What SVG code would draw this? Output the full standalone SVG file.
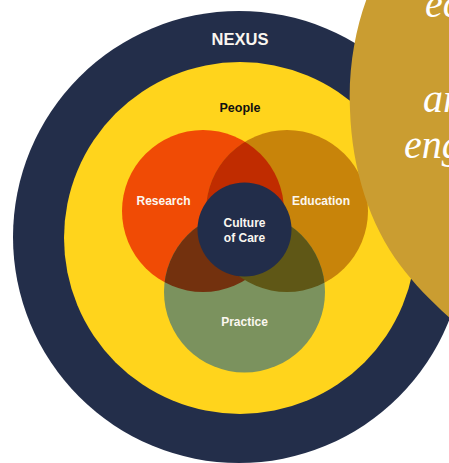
<svg xmlns="http://www.w3.org/2000/svg" width="449" height="463" viewBox="0 0 449 463">
  <style>
    .lbl { font-family: "Liberation Sans", Arial, sans-serif; font-weight: bold; fill: #FBF7F0; text-anchor: middle; }
    .quote { font-family: "Liberation Serif", "Times New Roman", serif; font-style: italic; font-size: 40px; fill: #FFFFFF; }
  </style>
  <defs>
    <clipPath id="clipR"><circle cx="203" cy="211" r="81"/></clipPath>
    <clipPath id="clipE"><circle cx="287" cy="211" r="81"/></clipPath>
    <clipPath id="clipP"><circle cx="244.5" cy="292" r="80.5"/></clipPath>
  </defs>
  <rect width="449" height="463" fill="#FFFFFF"/>

  <g id="nexus">
    <circle cx="239" cy="237" r="226" fill="#232E4A"/>
    <text class="lbl" x="240" y="45" font-size="16.5">NEXUS</text>
  </g>

  <g id="people">
    <circle cx="240" cy="238" r="176" fill="#FFD41C"/>
    <text x="240" y="112" font-size="12.5" font-family="Liberation Sans, Arial, sans-serif" font-weight="bold" fill="#111111" text-anchor="middle">People</text>
  </g>

  <g id="research">
    <circle cx="203" cy="211" r="81" fill="#F04B05"/>
  </g>
  <g id="education">
    <circle cx="287" cy="211" r="81" fill="#C8840A"/>
  </g>
  <g id="practice">
    <circle cx="244.5" cy="292" r="80.5" fill="#7B925E"/>
  </g>
  <g id="overlaps">
    <circle cx="287" cy="211" r="81" fill="#C02C00" clip-path="url(#clipR)"/>
    <circle cx="244.5" cy="292" r="80.5" fill="#73310E" clip-path="url(#clipR)"/>
    <circle cx="244.5" cy="292" r="80.5" fill="#5F5716" clip-path="url(#clipE)"/>
  </g>
  <g id="culture">
    <circle cx="244.5" cy="229.5" r="47" fill="#222D4A"/>
    <text class="lbl" x="244.5" y="227" font-size="12">Culture</text>
    <text class="lbl" x="244.5" y="242" font-size="12">of Care</text>
  </g>
  <g id="labels">
    <text class="lbl" x="163.5" y="205" font-size="12">Research</text>
    <text class="lbl" x="321" y="205" font-size="12">Education</text>
    <text class="lbl" x="244.5" y="326" font-size="12">Practice</text>
  </g>

  <g id="quote">
    <path d="M 367,-2 C 355,30 348,70 350,110 C 352,170 370,225 400,265 C 415,285 432,302 452,320 L 460,330 L 460,-10 L 368,-10 Z" fill="#CA9D31"/>
    <text class="quote" x="425" y="17">ec</text>
    <text class="quote" x="423" y="112">ar</text>
    <text class="quote" x="404" y="158">eng</text>
  </g>
</svg>
